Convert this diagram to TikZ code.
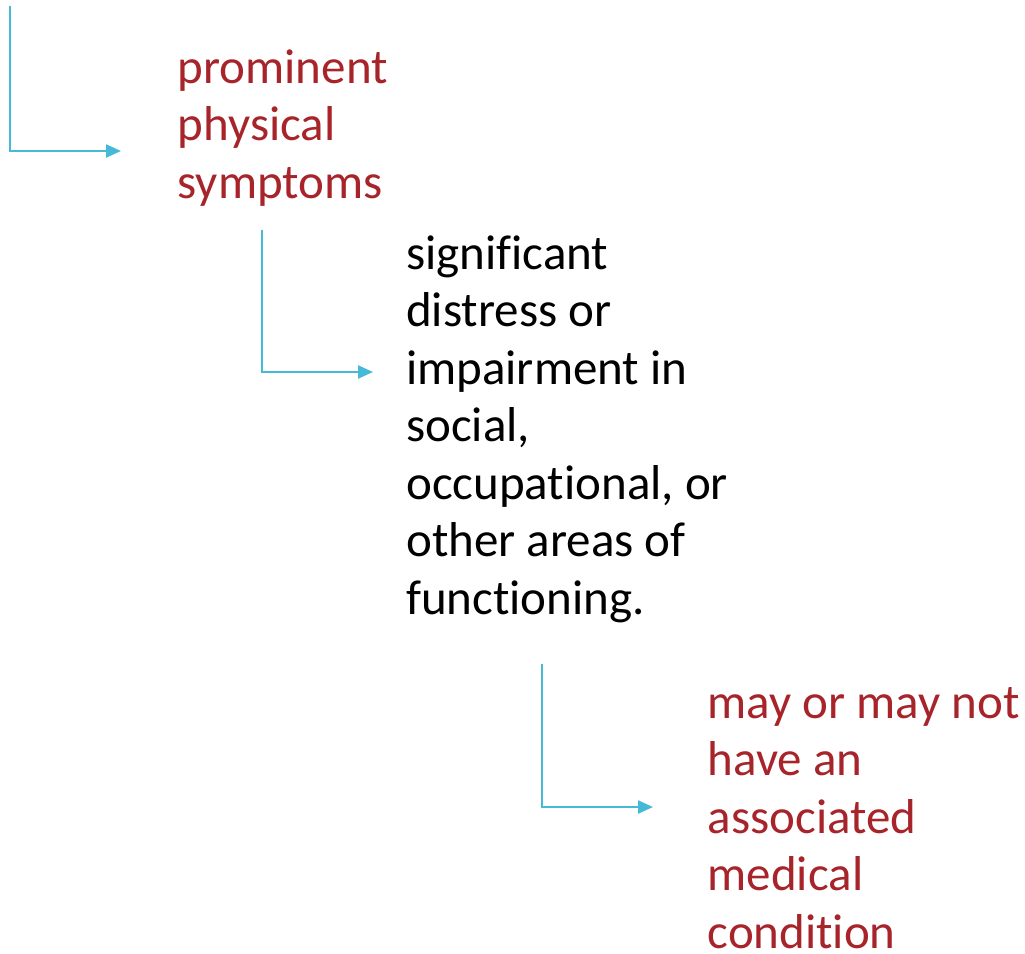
\documentclass[tikz,border=0pt]{standalone}
\usepackage{fontspec}
\setmainfont{Carlito}[RawFeature={-liga;-dlig;-clig}]
\usetikzlibrary{arrows.meta}
\definecolor{txtred}{RGB}{167,36,43}
\definecolor{arrblue}{RGB}{69,185,214}
\tikzset{
  x=1pt, y=-1pt,
  label text/.style={anchor=base west, inner sep=0pt, align=left,
    font=\fontsize{49}{57.5}\selectfont},
  connector/.style={draw=arrblue, line width=2.4pt,
    -{Triangle[length=15pt, width=13pt]}}
}
\begin{document}
\begin{tikzpicture}
\useasboundingbox (0,0) rectangle (1025,953);
% anchors are at the baseline of each text's last line
\node[label text, text=txtred] (n1) at (177.5,198) {prominent\\physical\\symptoms};
\node[label text, text=black] (n2) at (406,614) {significant\\distress or\\impairment in\\social,\\occupational, or\\other areas of\\functioning.};
\node[label text, text=txtred] (n3) at (707.5,948) {may or may not\\have an\\associated\\medical\\condition};
\coordinate (s1) at (10,6);
\coordinate (e1) at (121,151);
\coordinate (s2) at (262,230);
\coordinate (e2) at (373,372);
\coordinate (s3) at (542,664);
\coordinate (e3) at (653,807);
\draw[connector] (s1) |- (e1);
\draw[connector] (s2) |- (e2);
\draw[connector] (s3) |- (e3);
\end{tikzpicture}
\end{document}
